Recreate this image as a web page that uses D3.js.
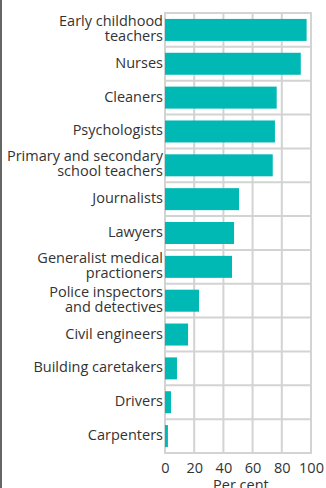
<!DOCTYPE html>
<html><head><meta charset="utf-8">
<script src="https://cdn.jsdelivr.net/npm/d3@7"></script>
<style>html,body{margin:0;padding:0;background:#fff;}svg{display:block;}</style>
</head><body>
<script>
const categories = [
  ["Early childhood","teachers"],
  ["Nurses"],
  ["Cleaners"],
  ["Psychologists"],
  ["Primary and secondary","school teachers"],
  ["Journalists"],
  ["Lawyers"],
  ["Generalist medical","practioners"],
  ["Police inspectors","and detectives"],
  ["Civil engineers"],
  ["Building caretakers"],
  ["Drivers"],
  ["Carpenters"]
];
const values = [97, 93, 76.5, 75.3, 73.8, 50.7, 47.3, 45.9, 23.3, 15.8, 8.2, 4.1, 2];
const xTicks = [0, 20, 40, 60, 80, 100];
const xTitle = "Per cent";

const W = 326, H = 488;
const svg = d3.select("body").append("svg").attr("width", W).attr("height", H);
const font = "'Open Sans', sans-serif";

// frame line on left
svg.append("rect").attr("x", 0).attr("y", 0).attr("width", 2).attr("height", H).attr("fill", "#666");

const x = d3.scaleLinear().domain([0, 100]).range([165, 311]);
const y = d3.scaleBand().domain(d3.range(categories.length)).range([13, 453])
  .paddingInner(0.35).paddingOuter(0.175);

const grid = "#d3d3d3";
// vertical gridlines
svg.append("g").selectAll("line").data(xTicks).join("line")
  .attr("x1", d => x(d)).attr("x2", d => x(d))
  .attr("y1", 13).attr("y2", 453)
  .attr("stroke", grid).attr("stroke-width", 2);
// horizontal gridlines at band boundaries
const step = y.step();
const hLines = d3.range(categories.length + 1).map(k => 13 + k * step);
svg.append("g").selectAll("line").data(hLines).join("line")
  .attr("x1", x(0) - 1).attr("x2", x(100) + 1)
  .attr("y1", d => d).attr("y2", d => d)
  .attr("stroke", grid).attr("stroke-width", 2);

// bars
svg.append("g").selectAll("rect").data(values).join("rect")
  .attr("x", x(0)).attr("y", (d, i) => y(i))
  .attr("width", d => x(d) - x(0)).attr("height", y.bandwidth())
  .attr("fill", "#00b9b5");

// category labels
const lab = svg.append("g").attr("font-family", font).attr("font-size", 14.5)
  .attr("fill", "#333").attr("text-anchor", "end");
categories.forEach((lines, i) => {
  const c = y(i) + y.bandwidth() / 2;
  const t = lab.append("text").attr("x", 163);
  if (lines.length === 1) {
    t.append("tspan").attr("x", 163).attr("y", c + 4).text(lines[0]);
  } else {
    t.append("tspan").attr("x", 163).attr("y", c - 4).text(lines[0]);
    t.append("tspan").attr("x", 163).attr("y", c + 11).text(lines[1]);
  }
});

// x axis
const ax = svg.append("g").attr("transform", "translate(0,453)")
  .call(d3.axisBottom(x).tickValues(xTicks).tickSize(0).tickPadding(10).tickFormat(d3.format("d")));
ax.select(".domain").remove();
ax.selectAll("text").attr("font-family", font).attr("font-size", 14.5).attr("fill", "#333");

svg.append("text").attr("x", x(52)).attr("y", 490).attr("text-anchor", "middle")
  .attr("font-family", font).attr("font-size", 14.5).attr("fill", "#333").text(xTitle);
</script>
</body></html>
